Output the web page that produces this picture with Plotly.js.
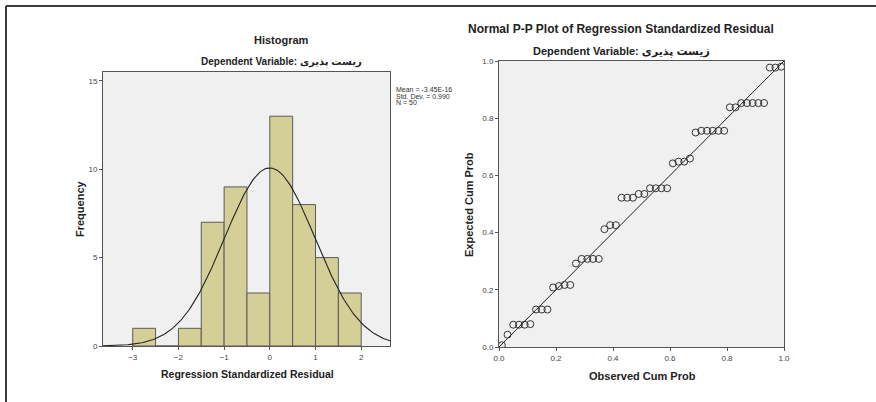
<!DOCTYPE html>
<html>
<head>
<meta charset="utf-8">
<script src="https://cdn.plot.ly/plotly-3.0.1.min.js"></script>
<style>html,body{margin:0;padding:0;background:#fff;}#chart{width:876px;height:402px;}</style>
</head>
<body>
<div id="chart"></div>
<script>
// ---- data ----
var binStarts = [-3, -2.5, -2, -1.5, -1, -0.5, 0, 0.5, 1, 1.5];
var binCounts = [1, 0, 1, 7, 9, 3, 13, 8, 5, 3];
var binWidth = 0.5;
var statMean = -3.45e-16;
var statSD = 0.990;
var statN = 50;
var histXTicks = [-3, -2, -1, 0, 1, 2];
var histYTicks = [0, 5, 10, 15];

var observedCum = [0.01,0.03,0.05,0.07,0.09,0.11,0.13,0.15,0.17,0.19,
                   0.21,0.23,0.25,0.27,0.29,0.31,0.33,0.35,0.37,0.39,
                   0.41,0.43,0.45,0.47,0.49,0.51,0.53,0.55,0.57,0.59,
                   0.61,0.63,0.65,0.67,0.69,0.71,0.73,0.75,0.77,0.79,
                   0.81,0.83,0.85,0.87,0.89,0.91,0.93,0.95,0.97,0.99];
var expectedCum = [0.006,0.043,0.078,0.078,0.078,0.080,0.131,0.131,0.131,0.208,
                   0.213,0.217,0.217,0.292,0.308,0.308,0.308,0.308,0.412,0.426,
                   0.426,0.522,0.522,0.522,0.535,0.535,0.555,0.555,0.555,0.555,
                   0.642,0.648,0.648,0.659,0.750,0.756,0.756,0.756,0.756,0.756,
                   0.838,0.838,0.853,0.853,0.853,0.853,0.853,0.977,0.977,0.980];
var refLine = [0, 1];
var ppTicks = [0, 0.2, 0.4, 0.6, 0.8, 1.0];

// ---- derived ----
var binCenters = binStarts.map(function(s){ return s + binWidth/2; });
var histRange = [-3.65, 2.63];
var curveX = [], curveY = [];
for (var i = 0; i <= 200; i++) {
  var x = histRange[0] + (histRange[1]-histRange[0]) * i / 200;
  var z = (x - statMean) / statSD;
  curveX.push(x);
  curveY.push(statN * binWidth * Math.exp(-0.5*z*z) / (statSD * Math.sqrt(2*Math.PI)));
}

var W = 876, H = 402;
function px(x){ return x / W; }
function py(y){ return 1 - y / H; }

var FONT = '"Liberation Sans", Arial, "DejaVu Sans", sans-serif';
var tickFont = {family: FONT, size: 8, color: '#444'};

var traces = [
  {type:'bar', x: binCenters, y: binCounts, width: binWidth, xaxis:'x', yaxis:'y',
   marker:{color:'#D3CF97', line:{color:'#5a5a5a', width:1}}, hoverinfo:'x+y'},
  {type:'scatter', mode:'lines', x: curveX, y: curveY, xaxis:'x', yaxis:'y',
   line:{color:'#222', width:1.1}, hoverinfo:'skip'},
  {type:'scatter', mode:'lines', x: refLine, y: refLine, xaxis:'x2', yaxis:'y2',
   line:{color:'#222', width:1}, hoverinfo:'skip'},
  {type:'scatter', mode:'markers', x: observedCum, y: expectedCum, xaxis:'x2', yaxis:'y2',
   marker:{symbol:'circle-open', size:7, color:'#333', line:{color:'#333', width:1}}}
];

var axisCommon = {showline:true, mirror:true, linecolor:'#555', linewidth:1,
  ticks:'outside', ticklen:3, tickcolor:'#555', tickfont: tickFont,
  showgrid:false, zeroline:false, fixedrange:true};

var layout = {
  width: W, height: H,
  margin:{l:0, r:0, t:0, b:0},
  paper_bgcolor:'#fff',
  plot_bgcolor:'#F0F0F0',
  showlegend:false,
  bargap:0,
  xaxis: Object.assign({}, axisCommon, {domain:[px(103), px(390)], range: histRange,
    tickvals: histXTicks, anchor:'y'}),
  yaxis: Object.assign({}, axisCommon, {domain:[py(346), py(72)], range:[0, 15.5],
    tickvals: histYTicks, anchor:'x'}),
  xaxis2: Object.assign({}, axisCommon, {domain:[px(499), px(784)], range:[0, 1],
    tickvals: ppTicks, tickformat:'.1f', anchor:'y2'}),
  yaxis2: Object.assign({}, axisCommon, {domain:[py(347), py(61)], range:[0, 1],
    tickvals: ppTicks, tickformat:'.1f', anchor:'x2'}),
  shapes: [
    {type:'line', xref:'paper', yref:'paper', x0:px(6), x1:1, y0:py(6), y1:py(6), line:{color:'#3a3a3a', width:2}},
    {type:'line', xref:'paper', yref:'paper', x0:px(6), x1:px(6), y0:py(6), y1:0, line:{color:'#3a3a3a', width:2}}
  ],
  annotations: [
    {text:'<b>Histogram</b>', x:px(281), y:py(40)},
    {text:'<b>Dependent Variable: زیست پذیری</b>', x:px(281), y:py(62), font:{family:FONT, size:10, color:'#222'}},
    {text:'<b>Regression Standardized Residual</b>', x:px(247), y:py(374), font:{family:FONT, size:10.5, color:'#222'}},
    {text:'<b>Frequency</b>', x:px(80), y:py(209), textangle:-90},
    {text:'<b>Normal P-P Plot of Regression Standardized Residual</b>', x:px(621), y:py(29), font:{family:FONT, size:12, color:'#222'}},
    {text:'<b>Dependent Variable: زیست پذیری</b>', x:px(621), y:py(52)},
    {text:'<b>Observed Cum Prob</b>', x:px(642), y:py(376)},
    {text:'<b>Expected Cum Prob</b>', x:px(469), y:py(204), textangle:-90},
    {text:'Mean = -3.45E-16', x:px(394), y:py(90), xanchor:'left', font:{family:FONT, size:7, color:'#333'}},
    {text:'Std. Dev. = 0.990', x:px(394), y:py(96), xanchor:'left', font:{family:FONT, size:7, color:'#333'}},
    {text:'N = 50', x:px(394), y:py(102), xanchor:'left', font:{family:FONT, size:7, color:'#333'}}
  ].map(function(a){
    return Object.assign({xref:'paper', yref:'paper', showarrow:false, xanchor:'center', yanchor:'middle',
      font:{family:FONT, size:11, color:'#222'}}, a);
  })
};

Plotly.newPlot('chart', traces, layout, {displayModeBar:false, staticPlot:true});
</script>
</body>
</html>
